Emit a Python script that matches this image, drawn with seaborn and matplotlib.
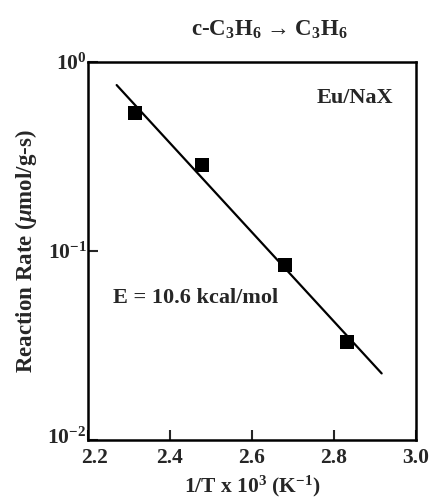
import matplotlib
matplotlib.use("Agg")
import matplotlib.pyplot as plt
import matplotlib.transforms as mtransforms
import seaborn as sns
import pandas as pd
from matplotlib.ticker import FixedLocator, NullLocator

# Data
inv_T = [2.315, 2.477, 2.68, 2.831]
rate = [0.537, 0.285, 0.084, 0.033]
fit_x = [2.27, 2.916]
fit_y = [0.755, 0.0225]
x_ticks = [2.2, 2.4, 2.6, 2.8, 3.0]
x_tick_labels = ["2.2", "2.4", "2.6", "2.8", "3.0"]
y_ticks = [0.01, 0.1, 1.0]
y_tick_labels = ["$10^{-2}$", "$10^{-1}$", "$10^{0}$"]

sns.set_theme(style="ticks")
plt.rcParams["font.family"] = ["Liberation Serif", "DejaVu Serif"]
plt.rcParams["font.weight"] = "bold"
plt.rcParams["mathtext.fontset"] = "custom"
plt.rcParams["mathtext.rm"] = "Liberation Serif:bold"
plt.rcParams["mathtext.it"] = "Liberation Serif:italic:bold"
plt.rcParams["mathtext.bf"] = "Liberation Serif:bold"

fig = plt.figure(figsize=(4.29, 4.98), dpi=100)
ax = fig.add_axes([0.205, 0.1165, 0.765, 0.759])

pts = pd.DataFrame({"x": inv_T, "y": rate})
fit = pd.DataFrame({"x": fit_x, "y": fit_y})
sns.lineplot(data=fit, x="x", y="y", ax=ax, color="black", linewidth=1.6)
sns.scatterplot(data=pts, x="x", y="y", ax=ax, marker="s", s=110, color="black",
                edgecolor="black", linewidth=0, zorder=5)

ax.set_yscale("log")
ax.set_xlim(2.2, 3.0)
ax.set_ylim(0.01, 1.0)
ax.xaxis.set_major_locator(FixedLocator(x_ticks))
ax.set_xticklabels(x_tick_labels)
ax.yaxis.set_major_locator(FixedLocator(y_ticks))
ax.yaxis.set_minor_locator(NullLocator())
ax.set_yticklabels(y_tick_labels)
ax.tick_params(axis="both", direction="in", length=7, width=1.5, labelsize=15.5)
ax.tick_params(axis="x", pad=6)
ax.tick_params(axis="y", pad=1)
for lab in ax.get_xticklabels() + ax.get_yticklabels():
    lab.set_fontweight("bold")
# nudge the lowest y label up and first x label right, as in the reference
ylabs = ax.get_yticklabels()
ylabs[0].set_transform(ylabs[0].get_transform() +
                       mtransforms.ScaledTranslation(0, 3 / 72, fig.dpi_scale_trans))
xlabs = ax.get_xticklabels()
xlabs[0].set_transform(xlabs[0].get_transform() +
                       mtransforms.ScaledTranslation(5 / 72, 0, fig.dpi_scale_trans))
for sp in ax.spines.values():
    sp.set_linewidth(1.8)
    sp.set_color("black")

ax.set_xlabel("1/T x 10$^{3}$ (K$^{-1}$)", fontsize=15.5, fontweight="bold", labelpad=4)
ax.set_ylabel("Reaction Rate ($\\mu$mol/g-s)", fontsize=16.5, fontweight="bold", labelpad=6)

ax.text(0.93, 0.93, "Eu/NaX", transform=ax.transAxes, ha="right", va="top",
        fontsize=16, fontweight="bold")
ax.text(0.075, 0.375, "E = 10.6 kcal/mol", transform=ax.transAxes, ha="left", va="center",
        fontsize=16, fontweight="bold")

fig.text(0.628, 0.94, "c-C$_3$H$_6$ → C$_3$H$_6$", ha="center", va="center",
         fontsize=16.5, fontweight="bold")

fig.savefig("out.png", dpi=100)
